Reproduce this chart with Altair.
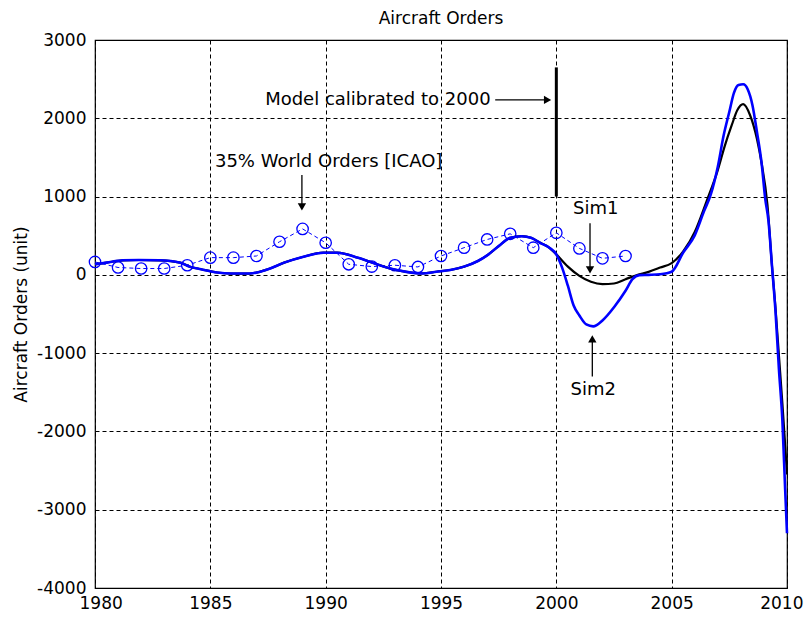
import altair as alt
import pandas as pd

# ICAO observed orders (35% of world orders), yearly
icao_years = list(range(1980, 2004))
icao_vals = [165, 94, 81, 81, 123, 220, 220, 241, 423, 587, 410, 135,
             106, 123, 101, 241, 347, 452, 524, 347, 537, 338, 211, 241]

# Model curve shared by both simulations up to 2000
common_t = [1980, 1980.5, 1981.2, 1981.9, 1982.8, 1983.7, 1984.1, 1984.6, 1985.3,
            1985.9, 1986.7, 1987.5, 1988.2, 1989, 1989.9, 1990.5, 1991.4, 1992.1,
            1992.8, 1993.5, 1994.2, 1994.8, 1995.4, 1996, 1996.6, 1997, 1997.5,
            1998, 1998.5, 1998.9, 1999.3, 1999.7, 2000]
common_v = [135, 156, 186, 190, 186, 156, 105, 72, 30, 17, 17, 72, 156, 228, 283,
            283, 219, 148, 80, 38, 18, 40, 62, 105, 177, 249, 367, 473, 494, 473,
            409, 346, 262]

# Sim1 (black) after 2000
sim1_t = [2000.5, 2001, 2001.5, 2002, 2002.5, 2003, 2003.5, 2004, 2004.5, 2005,
          2005.5, 2006, 2006.5, 2007, 2007.3, 2007.6, 2007.85, 2008.1, 2008.4,
          2008.7, 2008.9, 2009.15, 2009.35, 2009.5, 2009.65, 2009.8, 2009.9, 2010]
sim1_v = [105, -13, -89, -118, -110, -55, -4, 38, 93, 150, 300, 548, 930, 1338,
          1645, 1908, 2105, 2180, 2039, 1732, 1425, 900, 110, -417, -1031, -1645,
          -2083, -2550]

# Sim2 (blue) after 2000
sim2_t = [2000.25, 2000.5, 2000.75, 2001, 2001.3, 2001.6, 2002, 2002.5, 2003,
          2003.3, 2003.6, 2004, 2004.5, 2005, 2005.5, 2006, 2006.4, 2006.7, 2007,
          2007.25, 2007.5, 2007.7, 2007.9, 2008.1, 2008.3, 2008.5, 2008.7, 2008.9,
          2009.05, 2009.2, 2009.35, 2009.5, 2009.65, 2009.8, 2009.92, 2010]
sim2_v = [93, -139, -392, -519, -633, -658, -582, -413, -203, -55, -4, 0, 8, 40,
          285, 504, 811, 1031, 1382, 1776, 2083, 2325, 2425, 2434, 2368, 2171,
          1820, 1425, 987, 680, 110, -460, -1206, -1864, -2741, -3300]

# Annotation texts
ann_text = ["Model calibrated to 2000", "35% World Orders [ICAO]", "Sim1", "Sim2"]
ann_x = [1997.15, 1985.2, 2001.71, 2001.6]
ann_y = [2235, 1437, 843, -1469]
ann_align = ["right", "left", "center", "center"]

# Arrow shafts: (x, x2, y, y2)
arr_x = [1997.35, 1988.97, 2001.46, 2001.56]
arr_x2 = [1999.6, 1988.97, 2001.46, 2001.56]
arr_y = [2235, 1277, 660, -1299]
arr_y2 = [2235, 860, 80, -800]
# Arrow heads
head_x = [1999.62, 1988.97, 2001.46, 2001.56]
head_y = [2235, 868, 64, -817]
head_shape = ["triangle-right", "triangle-down", "triangle-down", "triangle-up"]

# Calibration marker line at 2000
cal_x = [2000]
cal_y = [1000]
cal_y2 = [2650]

FONT = "DejaVu Sans"

sim1_df = pd.DataFrame({"t": common_t + sim1_t, "v": common_v + sim1_v})
sim2_df = pd.DataFrame({"t": common_t + sim2_t, "v": common_v + sim2_v})
icao_df = pd.DataFrame({"t": icao_years, "v": icao_vals})
ann_df = pd.DataFrame({"x": ann_x, "y": ann_y, "text": ann_text, "align": ann_align})
arr_df = pd.DataFrame({"x": arr_x, "x2": arr_x2, "y": arr_y, "y2": arr_y2})
head_df = pd.DataFrame({"x": head_x, "y": head_y, "shape": head_shape})
cal_df = pd.DataFrame({"x": cal_x, "y": cal_y, "y2": cal_y2})

xs = alt.Scale(domain=[1980, 2010], nice=False, zero=False)
ys = alt.Scale(domain=[-4000, 3000], nice=False, zero=False)

x_axis = alt.Axis(values=[1980, 1985, 1990, 1995, 2000, 2005, 2010], format="d",
                  title=None, grid=True, gridColor="black", gridDash=[4, 3],
                  gridOpacity=1, gridWidth=1, ticks=False, domain=False,
                  labelFont=FONT, labelFontSize=17, labelColor="black",
                  labelPadding=7, labelFlush=True, labelFlushOffset=16)
y_axis = alt.Axis(values=list(range(-4000, 3001, 1000)),
                  labelExpr="datum.value < 0 ? '-' + abs(datum.value) : '' + datum.value",
                  title="Aircraft Orders (unit)", titleFont=FONT, titleFontSize=17,
                  titleFontWeight="normal", titleColor="black", titlePadding=6,
                  grid=True, gridColor="black", gridDash=[4, 3], gridOpacity=1,
                  gridWidth=1, ticks=False, domain=False, labelFont=FONT,
                  labelFontSize=17, labelColor="black", labelPadding=9)

base_icao = alt.Chart(icao_df)
icao_line = base_icao.mark_line(color="#0000ff", strokeWidth=1, strokeDash=[4, 3]).encode(
    x=alt.X("t:Q", scale=xs, axis=x_axis), y=alt.Y("v:Q", scale=ys, axis=y_axis))
icao_pts = base_icao.mark_point(shape="circle", filled=False, color="#0000ff",
                                size=130, strokeWidth=1.3, opacity=1).encode(
    x=alt.X("t:Q", scale=xs), y=alt.Y("v:Q", scale=ys))

sim1 = alt.Chart(sim1_df).mark_line(color="black", strokeWidth=2.2,
                                    interpolate="monotone").encode(
    x=alt.X("t:Q", scale=xs), y=alt.Y("v:Q", scale=ys))
sim2 = alt.Chart(sim2_df).mark_line(color="#0000ff", strokeWidth=2.6,
                                    interpolate="monotone").encode(
    x=alt.X("t:Q", scale=xs), y=alt.Y("v:Q", scale=ys))

cal = alt.Chart(cal_df).mark_rule(color="black", strokeWidth=3).encode(
    x=alt.X("x:Q", scale=xs), y=alt.Y("y:Q", scale=ys), y2="y2:Q")

arrows = alt.Chart(arr_df).mark_rule(color="black", strokeWidth=1.3).encode(
    x=alt.X("x:Q", scale=xs), x2="x2:Q", y=alt.Y("y:Q", scale=ys), y2="y2:Q")
heads = alt.Chart(head_df).mark_point(filled=True, color="black", size=70,
                                      opacity=1).encode(
    x=alt.X("x:Q", scale=xs), y=alt.Y("y:Q", scale=ys),
    shape=alt.Shape("shape:N", scale=None))

texts = []
for al in ["left", "center", "right"]:
    texts.append(
        alt.Chart(ann_df).transform_filter(alt.datum.align == al).mark_text(
            font=FONT, fontSize=18, color="black", align=al, baseline="middle").encode(
            x=alt.X("x:Q", scale=xs), y=alt.Y("y:Q", scale=ys), text="text:N"))

chart = alt.layer(icao_line, icao_pts, sim1, sim2, cal, arrows, heads, *texts).properties(
    width=692, height=548,
    title=alt.TitleParams("Aircraft Orders", font=FONT, fontSize=17,
                          fontWeight="normal", color="black", offset=3),
    autosize=alt.AutoSizeParams(type="none"),
    padding={"left": 87, "top": 32, "right": 17, "bottom": 30},
).configure_view(stroke="black", strokeWidth=1.2)

chart.save("out.html", embed_options={"renderer": "svg", "actions": False})
